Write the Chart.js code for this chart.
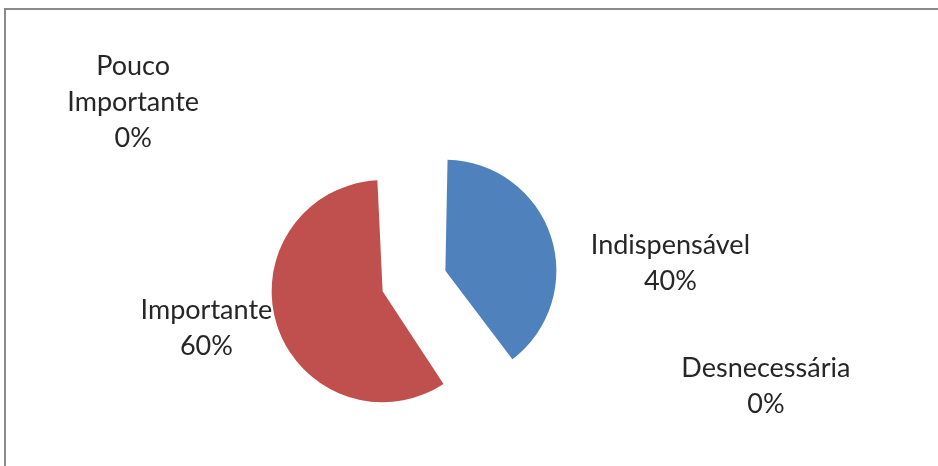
<!DOCTYPE html>
<html>
<head>
<meta charset="utf-8">
<title>Grau de importância</title>
<script src="https://cdn.jsdelivr.net/npm/chart.js@4.4.1/dist/chart.umd.min.js"></script>
<style>
  html, body { margin: 0; padding: 0; background: #fff; }
  #wrap { position: relative; width: 938px; height: 466px; overflow: hidden; }
  #frame {
    position: absolute; left: 4px; top: 8px; right: -10px; bottom: -10px;
    border-top: 2px solid #8a8a8a; border-left: 2px solid #8a8a8a;
  }
  canvas { position: absolute; left: 0; top: 0; }
</style>
</head>
<body>
<div id="wrap">
  <div id="frame"></div>
  <canvas id="pie" width="938" height="466"></canvas>
</div>
<script>
// Respostas por categoria (%)
const categorias = ['Indispensável', 'Importante', 'Pouco Importante', 'Desnecessária'];
const valores = [40, 60, 0, 0];
const cores = ['#4F81BD', '#C0504D', '#9BBB59', '#8064A2'];

// Linhas de cada rótulo, já quebradas como aparecem no gráfico
const rotulos = [
  ['Indispensável', '40%'],
  ['Importante', '60%'],
  ['Pouco', 'Importante', '0%'],
  ['Desnecessária', '0%']
];
// posição do centro de cada rótulo, em múltiplos do raio a partir do centro da pizza
const posRotulos = [
  [2.31, -0.16],
  [-1.87, 0.43],
  [-2.53, -1.61],
  [3.17, 0.95]
];

const RAIO = 111;
const DESTAQUE = 132; // o Chart.js desloca cada fatia por offset / 4
const FONTE = '27px Lato, "Liberation Sans", sans-serif';
const ALTURA_LINHA = 36;

// O ArcElement também aumenta o raio da fatia destacada; desfaz isso
// para que todas as fatias fiquem com o mesmo raio
const raioFixo = {
  id: 'raioFixo',
  beforeDatasetsDraw(chart) {
    const meta = chart.getDatasetMeta(0);
    const base = meta.controller.outerRadius;
    meta.data.forEach(arc => {
      const fix = 1 - Math.sin(Math.min(Math.PI, arc.circumference || 0));
      arc.outerRadius = base - (DESTAQUE / 4) * fix;
    });
  }
};

// Desenha os rótulos de categoria e percentual ao redor da pizza
const rotulosPlugin = {
  id: 'rotulos',
  afterDatasetsDraw(chart) {
    const ctx = chart.ctx;
    const meta = chart.getDatasetMeta(0);
    const cx = meta.data[0].x, cy = meta.data[0].y, r = meta.controller.outerRadius;
    ctx.save();
    ctx.font = FONTE;
    ctx.fillStyle = '#262626';
    ctx.textAlign = 'center';
    ctx.textBaseline = 'middle';
    rotulos.forEach((linhas, i) => {
      const x = cx + posRotulos[i][0] * r;
      const y0 = cy + posRotulos[i][1] * r - (linhas.length - 1) * ALTURA_LINHA / 2;
      linhas.forEach((txt, j) => ctx.fillText(txt, x, y0 + j * ALTURA_LINHA));
    });
    ctx.restore();
  }
};

new Chart(document.getElementById('pie'), {
  type: 'pie',
  data: {
    labels: categorias,
    datasets: [{
      data: valores,
      backgroundColor: cores,
      borderWidth: 0,
      offset: DESTAQUE
    }]
  },
  options: {
    responsive: false,
    animation: false,
    radius: RAIO,
    layout: { padding: { left: 0, right: 110, top: 96, bottom: 0 } },
    plugins: {
      legend: { display: false },
      tooltip: { enabled: false }
    }
  },
  plugins: [raioFixo, rotulosPlugin]
});
</script>
</body>
</html>
